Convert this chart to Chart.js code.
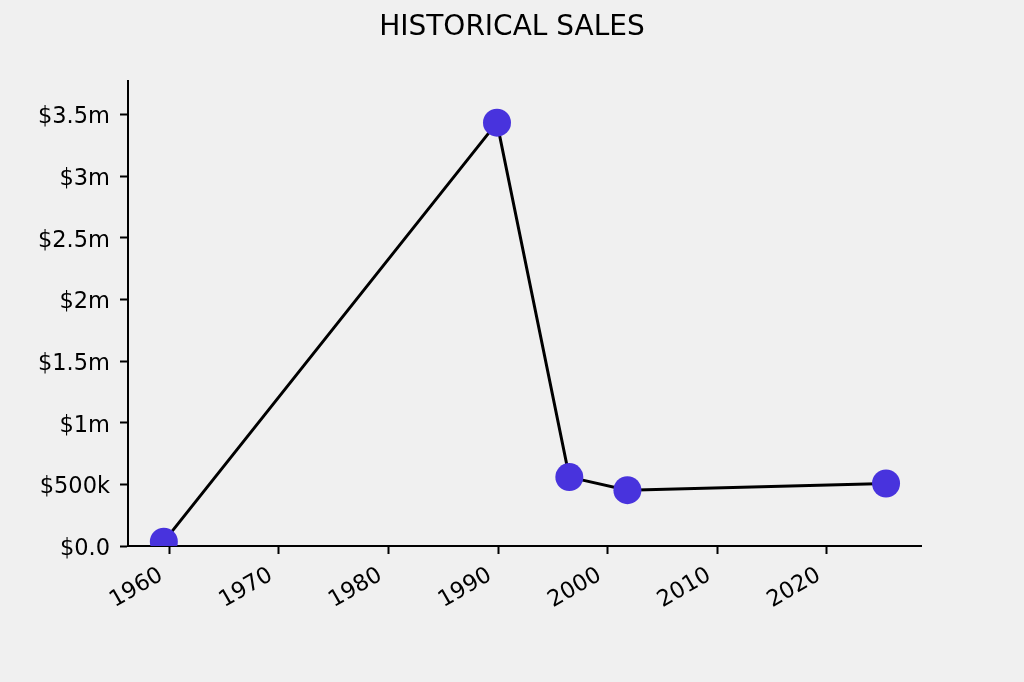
<!DOCTYPE html>
<html>
<head>
<meta charset="utf-8">
<title>Historical Sales</title>
<script src="https://cdn.jsdelivr.net/npm/chart.js@4.4.1/dist/chart.umd.min.js"></script>
<style>
    html, body { margin: 0; padding: 0; background: #f0f0f0; }
    canvas { display: block; }
</style>
</head>
<body>
<canvas id="chartSales" width="1024" height="682"></canvas>
<script>
// data (year as decimal, sales in dollars)
const years = [1959.5, 1989.9, 1996.5, 2001.8, 2025.4];
const sales = [35000, 3435000, 559000, 453000, 507000];

// axis ticks
const xTicks = [1960, 1970, 1980, 1990, 2000, 2010, 2020];
const yTicks = [0, 500000, 1000000, 1500000, 2000000, 2500000, 3000000, 3500000];
const yTickLabels = ["$0.0", "$500k", "$1m", "$1.5m", "$2m", "$2.5m", "$3m", "$3.5m"];

const font = "'DejaVu Sans', sans-serif";
const ctx = document.getElementById("chartSales").getContext("2d");

new Chart(ctx, {
    type: "line",
    data: {
        datasets: [
            {
                label: "Sales",
                data: years.map((y, i) => ({ x: y, y: sales[i] })),
                borderColor: "#000000",
                borderWidth: 3,
                pointRadius: 14,
                pointHoverRadius: 14,
                pointBackgroundColor: "#4833dd",
                pointBorderWidth: 0,
                tension: 0,
                clip: 0, // clip at the axes like matplotlib does
            },
        ],
    },
    options: {
        responsive: false,
        devicePixelRatio: 1,
        animation: false,
        layout: {
            padding: { top: 0, left: 0, right: 0, bottom: 0 },
        },
        plugins: {
            legend: { display: false },
            tooltip: { enabled: false },
            title: {
                display: true,
                text: "HISTORICAL SALES",
                color: "#000000",
                font: { family: font, size: 28, weight: "normal" },
                padding: { top: 11, bottom: 36 },
            },
        },
        scales: {
            x: {
                type: "linear",
                min: 1956.23,
                max: 2028.59,
                afterBuildTicks: (scale) => {
                    scale.ticks = xTicks.map((v) => ({ value: v }));
                },
                afterFit: (scale) => {
                    scale.height = 136;
                },
                grid: {
                    drawOnChartArea: false,
                    drawTicks: true,
                    tickLength: 8,
                    tickWidth: 2,
                    tickColor: "#000000",
                },
                border: { display: true, color: "#000000", width: 2 },
                ticks: {
                    color: "#000000",
                    font: { family: font, size: 22.5 },
                    minRotation: 30,
                    maxRotation: 30,
                    padding: 8,
                    labelOffset: -8,
                    callback: (v) => String(v),
                },
            },
            y: {
                type: "linear",
                position: "left",
                min: 0,
                max: 3776000,
                afterBuildTicks: (scale) => {
                    scale.ticks = yTicks.map((v) => ({ value: v }));
                },
                afterFit: (scale) => {
                    scale.width = 128;
                },
                grid: {
                    drawOnChartArea: false,
                    drawTicks: true,
                    tickLength: 8,
                    tickWidth: 2,
                    tickColor: "#000000",
                },
                border: { display: true, color: "#000000", width: 2 },
                ticks: {
                    color: "#000000",
                    font: { family: font, size: 22.5 },
                    padding: 10,
                    labelOffset: 3,
                    callback: (v) => yTickLabels[yTicks.indexOf(v)],
                },
            },
            // empty right-hand space so the title stays centred on the figure
            spacer: {
                type: "linear",
                position: "right",
                afterFit: (scale) => {
                    scale.width = 103;
                },
                grid: { display: false },
                border: { display: false },
                ticks: { display: false },
            },
        },
    },
});
</script>
</body>
</html>
